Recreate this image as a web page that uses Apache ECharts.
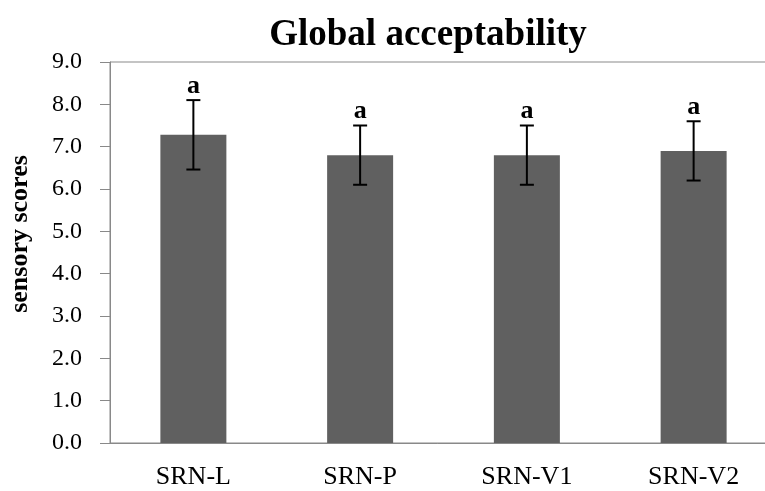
<!DOCTYPE html>
<html><head><meta charset="utf-8">
<script src="https://cdn.jsdelivr.net/npm/echarts@6/dist/echarts.min.js"></script>
<style>html,body{margin:0;padding:0;background:#fff}#c{width:765px;height:491px}</style>
</head><body><div id="c"></div>
<script>
const categories = ['SRN-L', 'SRN-P', 'SRN-V1', 'SRN-V2'];
const scores = [7.28, 6.8, 6.8, 6.9];
const errors = [0.82, 0.7, 0.7, 0.7];
const letters = ['a', 'a', 'a', 'a'];
const yTicks = [0, 1, 2, 3, 4, 5, 6, 7, 8, 9];
const yTitle = 'sensory scores';

const chart = echarts.init(document.getElementById('c'));
const serif = '"Liberation Serif", "Times New Roman", serif';
const axisGrey = '#898989';
chart.setOption({
  animation: false,
  title: {
    text: 'Global acceptability', left: 423, textAlign: 'center', top: 12,
    textStyle: { fontFamily: serif, fontWeight: 'bold', fontSize: 37, color: '#000' }
  },
  graphic: [{
    type: 'text', x: 20, y: 234, rotation: Math.PI / 2,
    style: { text: yTitle, font: 'bold 26px ' + serif, fill: '#000', align: 'center', verticalAlign: 'middle' }
  }],
  grid: { left: 110, top: 62, bottom: 48, right: -12, show: true, borderColor: axisGrey, borderWidth: 1, outerBoundsMode: 'none' },
  xAxis: {
    type: 'category', data: categories,
    axisLine: { lineStyle: { color: axisGrey, width: 1 } },
    axisTick: { show: false },
    axisLabel: { fontFamily: serif, fontSize: 26, color: '#000', margin: 21 }
  },
  yAxis: {
    type: 'value', min: yTicks[0], max: yTicks[yTicks.length - 1], interval: 1,
    axisLine: { show: true, lineStyle: { color: axisGrey, width: 1 } },
    axisTick: { show: true, length: 10, lineStyle: { color: axisGrey } },
    splitLine: { show: false },
    axisLabel: { fontFamily: serif, fontSize: 24, color: '#000', margin: 28, formatter: v => v.toFixed(1) }
  },
  series: [
    { type: 'bar', data: scores, barWidth: 66, itemStyle: { color: '#606060' } },
    {
      type: 'custom', z: 10,
      data: scores.map((v, i) => [i, v - errors[i], v + errors[i]]),
      renderItem: function (params, api) {
        const i = api.value(0);
        const lo = api.coord([i, api.value(1)]);
        const hi = api.coord([i, api.value(2)]);
        const hw = 7;
        const st = { stroke: '#000', lineWidth: 2 };
        return {
          type: 'group',
          children: [
            { type: 'line', shape: { x1: hi[0], y1: hi[1], x2: lo[0], y2: lo[1] }, style: st },
            { type: 'line', shape: { x1: hi[0] - hw, y1: hi[1], x2: hi[0] + hw, y2: hi[1] }, style: st },
            { type: 'line', shape: { x1: lo[0] - hw, y1: lo[1], x2: lo[0] + hw, y2: lo[1] }, style: st },
            { type: 'text', x: hi[0], y: hi[1] - 1, style: { text: letters[params.dataIndex], fill: '#000', font: 'bold 26px ' + serif, align: 'center', verticalAlign: 'bottom' } }
          ]
        };
      }
    }
  ]
});
</script></body></html>
